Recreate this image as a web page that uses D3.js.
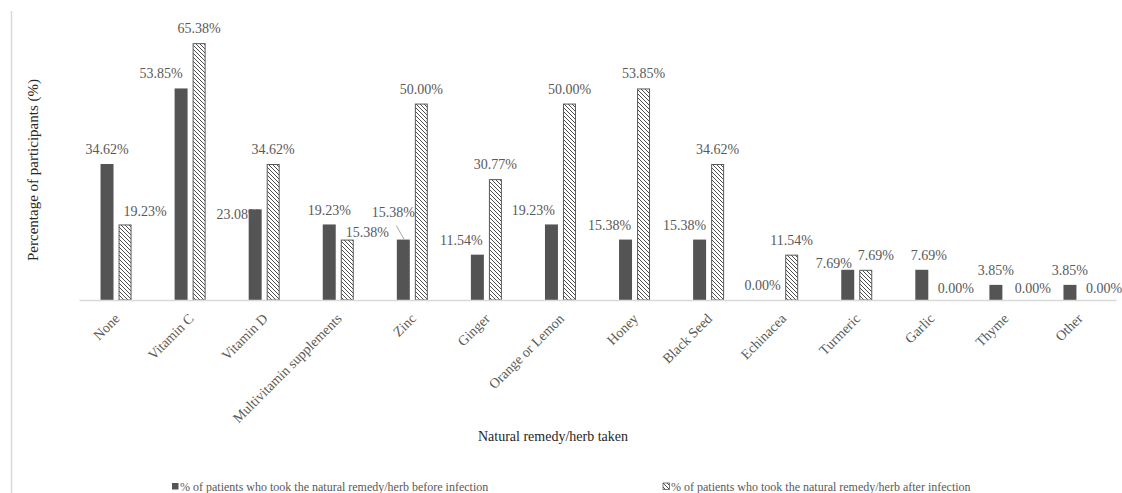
<!DOCTYPE html>
<html>
<head>
<meta charset="utf-8">
<script src="https://cdn.jsdelivr.net/npm/d3@7"></script>
<style>
	html, body { margin: 0; padding: 0; background: #fff; }
	#chart { width: 1122px; height: 493px; }
</style>
</head>
<body>
<div id="chart"></div>
<script>
let categories = ['None', 'Vitamin C', 'Vitamin D', 'Multivitamin supplements', 'Zinc', 'Ginger',
	'Orange or Lemon', 'Honey', 'Black Seed', 'Echinacea', 'Turmeric', 'Garlic', 'Thyme', 'Other']
let seriesNames = ['% of patients who took the natural remedy/herb before infection',
	'% of patients who took the natural remedy/herb after infection']
let before = [34.62, 53.85, 23.08, 19.23, 15.38, 11.54, 19.23, 15.38, 15.38, 0.00, 7.69, 7.69, 3.85, 3.85]
let after = [19.23, 65.38, 34.62, 15.38, 50.00, 30.77, 50.00, 53.85, 34.62, 11.54, 7.69, 0.00, 0.00, 0.00]

// label nudges [dx, dy] like the hand-moved labels in the original
let nudgeBefore = [[0, 0], [-20, 0], [-17, 20], [0, 1], [-10, -13], [-16, 0], [-18, 1], [-16, 0],
	[-15, 0], [-11, 0], [-14, 8], [7, 0], [0, 0], [0, 0]]
let nudgeAfter = [[20, 2], [0, 0], [0, 0], [20, 7], [0, 0], [0, 0], [0, 0], [0, 0],
	[0, 0], [0, 0], [10, 0], [16, 3], [19, 3], [16, 3]]

let serif = "'Liberation Serif', 'Times New Roman', serif"
let W = 1122
let H = 493
let plotLeft = 79
let plotRight = 1116
let plotTop = 25
let base = 300

let svg = d3.select('#chart').append('svg')
	.attr('width', W)
	.attr('height', H)
	.attr('font-family', serif)

let defs = svg.append('defs')
let pat = defs.append('pattern')
	.attr('id', 'hatch')
	.attr('patternUnits', 'userSpaceOnUse')
	.attr('width', 4)
	.attr('height', 4)
pat.append('rect').attr('width', 4).attr('height', 4).attr('fill', '#fff')
pat.append('path')
	.attr('d', 'M-1,-1 L5,5 M3,-1 L5,1 M-1,3 L1,5')
	.attr('stroke', '#3a3a3a')
	.attr('stroke-width', 0.9)

// left frame line
svg.append('line')
	.attr('x1', 11.5).attr('x2', 11.5)
	.attr('y1', 11).attr('y2', H)
	.attr('stroke', '#d9d9d9')
	.attr('stroke-width', 1.5)

let x = d3.scaleBand().domain(categories).range([plotLeft, plotRight])
let xSub = d3.scaleBand().domain(['before', 'after']).range([-15.5, 15.5]).paddingInner(0.28)
let y = d3.scaleLinear().domain([0, 70]).range([base, plotTop])

let rows = categories.map((c, i) => ({ cat: c, i: i, before: before[i], after: after[i] }))

let g = svg.append('g')

// before bars (solid)
g.selectAll('.bar-before')
	.data(rows)
	.join('rect')
	.attr('class', 'bar-before')
	.attr('x', d => x(d.cat) + x.bandwidth() / 2 + xSub('before'))
	.attr('y', d => y(d.before))
	.attr('width', xSub.bandwidth())
	.attr('height', d => base - y(d.before))
	.attr('fill', '#545454')

// after bars (hatched)
g.selectAll('.bar-after')
	.data(rows.filter(d => d.after > 0))
	.join('rect')
	.attr('class', 'bar-after')
	.attr('x', d => x(d.cat) + x.bandwidth() / 2 + xSub('after') + 0.5)
	.attr('y', d => y(d.after) + 0.5)
	.attr('width', xSub.bandwidth() - 1)
	.attr('height', d => base - y(d.after) - 0.5)
	.attr('fill', 'url(#hatch)')
	.attr('stroke', '#595959')
	.attr('stroke-width', 1)

// axis
let xAxis = d3.axisBottom(x).tickSize(0).tickPadding(0)
let ax = svg.append('g')
	.attr('transform', `translate(0,${base})`)
	.call(xAxis)
	.attr('font-family', serif)
	.attr('font-size', 14)
ax.select('.domain')
	.attr('stroke', '#d9d9d9')
	.attr('stroke-width', 1.5)
ax.selectAll('.tick text')
	.attr('fill', '#595959')
	.attr('text-anchor', 'end')
	.attr('dy', '0.35em')
	.attr('transform', 'translate(1,16) rotate(-45)')
	.attr('y', 0)

// data labels
let fmt = v => v.toFixed(2) + '%'
let labelBefore = rows.map(d => {
	let cx = x(d.cat) + x.bandwidth() / 2 + xSub('before') + xSub.bandwidth() / 2
	return { cx: cx + nudgeBefore[d.i][0], cy: y(d.before) - 15 + nudgeBefore[d.i][1], v: d.before, bx: cx, by: y(d.before), i: d.i }
})
let labelAfter = rows.map(d => {
	let cx = x(d.cat) + x.bandwidth() / 2 + xSub('after') + xSub.bandwidth() / 2
	return { cx: cx + nudgeAfter[d.i][0], cy: y(d.after) - 15 + nudgeAfter[d.i][1], v: d.after }
})

g.selectAll('.lab')
	.data(labelBefore.concat(labelAfter))
	.join('text')
	.attr('class', 'lab')
	.attr('x', d => d.cx)
	.attr('y', d => d.cy + 5)
	.attr('text-anchor', 'middle')
	.attr('font-family', serif)
	.attr('font-size', 14)
	.attr('fill', '#595959')
	.text(d => fmt(d.v))

// leader line for the lifted Zinc label
labelBefore.filter(d => nudgeBefore[d.i][1] < -5).forEach(d => {
	g.append('line')
		.attr('x1', d.cx + 3).attr('y1', d.cy + 14)
		.attr('x2', d.bx + 1).attr('y2', d.by)
		.attr('stroke', '#a6a6a6')
		.attr('stroke-width', 1)
})

// axis titles
svg.append('text')
	.attr('transform', 'translate(38,170) rotate(-90)')
	.attr('text-anchor', 'middle')
	.attr('font-family', serif)
	.attr('font-size', 15)
	.attr('fill', '#262626')
	.text('Percentage of participants (%)')

svg.append('text')
	.attr('x', 553)
	.attr('y', 441)
	.attr('text-anchor', 'middle')
	.attr('font-family', serif)
	.attr('font-size', 14)
	.attr('fill', '#262626')
	.text('Natural remedy/herb taken')

// legend
let legendX = [172, 663]
let leg = svg.selectAll('.leg')
	.data(seriesNames)
	.join('g')
	.attr('class', 'leg')
	.attr('transform', (d, i) => `translate(${legendX[i]},483)`)
leg.append('rect')
	.attr('width', 6.5)
	.attr('height', 6.5)
	.attr('fill', (d, i) => i === 0 ? '#545454' : 'url(#hatch)')
	.attr('stroke', (d, i) => i === 0 ? 'none' : '#595959')
	.attr('stroke-width', 0.8)
leg.append('text')
	.attr('x', 8)
	.attr('y', 7.5)
	.attr('font-family', serif)
	.attr('font-size', 12)
	.attr('fill', '#595959')
	.text(d => d)
</script>
</body>
</html>
